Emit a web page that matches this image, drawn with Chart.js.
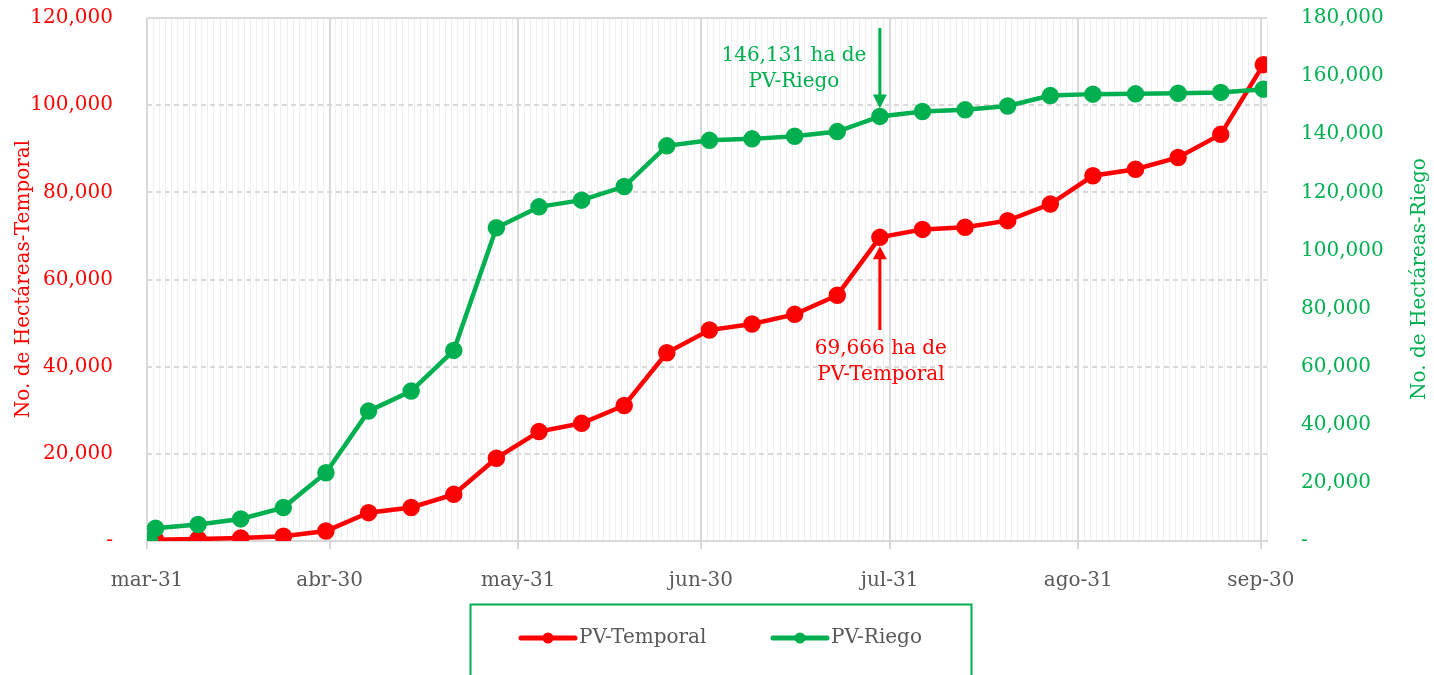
<!DOCTYPE html>
<html>
<head>
<meta charset="utf-8">
<script src="https://cdn.jsdelivr.net/npm/chart.js@4.4.0/dist/chart.umd.min.js"></script>
<style>
  html, body { margin: 0; padding: 0; background: #fff; }
  #wrap { width: 1434px; height: 675px; position: relative; }
</style>
</head>
<body>
<div id="wrap"><canvas id="chart"></canvas></div>
<script>
// dias contados desde el 31 de marzo
const dias = [0, 1, 8, 15, 22, 29, 36, 43, 50, 57, 64, 71, 78, 85, 92, 99, 106, 113, 120, 127, 134, 141, 148, 155, 162, 169, 176, 183];
const temporal = [0, 300, 450, 700, 1100, 2300, 6500, 7700, 10700, 19000, 25100, 27000, 31100, 43200, 48400, 49800, 52000, 56400, 69666, 71500, 72000, 73500, 77300, 83800, 85300, 88000, 93300, 109300];
const riego = [0, 4400, 5700, 7600, 11500, 23500, 44700, 51600, 65600, 107800, 115000, 117300, 122000, 136000, 137900, 138400, 139300, 140900, 146131, 147800, 148400, 149700, 153300, 153800, 153900, 154100, 154400, 155500];
const diasMes = [0, 30, 61, 91, 122, 153, 183];
const etiquetasMes = ["mar-31", "abr-30", "may-31", "jun-30", "jul-31", "ago-31", "sep-30"];

const ROJO = "#ff0000";
const VERDE = "#00b050";
const GRIS = "#595959";
const FUENTE = "DejaVu Serif";

const canvas = document.getElementById("chart");

function esMayor(v) {
  return diasMes.indexOf(Math.round(v + 0.4)) >= 0;
}
function formato(v) {
  return v === 0 ? "-" : v.toLocaleString("en-US");
}

// anotaciones, titulos de ejes y leyenda
const extras = {
  id: "extras",
  afterDraw(chart) {
    const ctx = chart.ctx;
    const area = chart.chartArea;
    const sx = chart.scales.x, sy = chart.scales.y, sy1 = chart.scales.y1;
    ctx.save();

    // borde superior
    ctx.strokeStyle = "#d9d9d9";
    ctx.lineWidth = 2;
    ctx.beginPath();
    ctx.moveTo(area.left, area.top);
    ctx.lineTo(area.right, area.top);
    ctx.stroke();

    // titulos de ejes
    ctx.font = "20px '" + FUENTE + "'";
    ctx.textAlign = "center";
    ctx.textBaseline = "middle";
    ctx.save();
    ctx.translate(24, 279);
    ctx.rotate(-Math.PI / 2);
    ctx.fillStyle = ROJO;
    ctx.fillText("No. de Hectáreas-Temporal", 0, 0);
    ctx.restore();
    ctx.save();
    ctx.translate(1420, 279);
    ctx.rotate(-Math.PI / 2);
    ctx.fillStyle = VERDE;
    ctx.fillText("No. de Hectáreas-Riego", 0, 0);
    ctx.restore();

    // flecha verde
    const xa = sx.getPixelForValue(120);
    const yv = sy1.getPixelForValue(146131);
    ctx.strokeStyle = VERDE;
    ctx.fillStyle = VERDE;
    ctx.lineWidth = 3;
    ctx.beginPath();
    ctx.moveTo(xa, 28);
    ctx.lineTo(xa, yv - 20);
    ctx.stroke();
    ctx.beginPath();
    ctx.moveTo(xa - 7, yv - 22);
    ctx.lineTo(xa + 7, yv - 22);
    ctx.lineTo(xa, yv - 8);
    ctx.closePath();
    ctx.fill();
    ctx.fillText("146,131 ha de", xa - 86, 56);
    ctx.fillText("PV-Riego", xa - 86, 82);

    // flecha roja
    const yr = sy.getPixelForValue(69666);
    ctx.strokeStyle = ROJO;
    ctx.fillStyle = ROJO;
    ctx.beginPath();
    ctx.moveTo(xa, 330);
    ctx.lineTo(xa, yr + 20);
    ctx.stroke();
    ctx.beginPath();
    ctx.moveTo(xa - 7, yr + 22);
    ctx.lineTo(xa + 7, yr + 22);
    ctx.lineTo(xa, yr + 9);
    ctx.closePath();
    ctx.fill();
    ctx.fillText("69,666 ha de", xa + 1, 349);
    ctx.fillText("PV-Temporal", xa + 1, 375);

    // leyenda
    ctx.strokeStyle = VERDE;
    ctx.lineWidth = 2;
    ctx.strokeRect(470.5, 604.5, 501, 100);
    const items = [[519, ROJO, "PV-Temporal"], [771, VERDE, "PV-Riego"]];
    items.forEach(([x0, color, txt]) => {
      ctx.strokeStyle = color;
      ctx.fillStyle = color;
      ctx.lineWidth = 5;
      ctx.lineCap = "round";
      ctx.beginPath();
      ctx.moveTo(x0 + 2, 638);
      ctx.lineTo(x0 + 56, 638);
      ctx.stroke();
      ctx.beginPath();
      ctx.arc(x0 + 29, 638, 5.5, 0, Math.PI * 2);
      ctx.fill();
      ctx.fillStyle = GRIS;
      ctx.textAlign = "left";
      ctx.fillText(txt, x0 + 60, 638);
    });
    ctx.restore();
  }
};

const data = {
  datasets: [
    {
      label: "PV-Temporal",
      data: dias.map((d, i) => ({ x: d, y: temporal[i] })),
      borderColor: ROJO,
      backgroundColor: ROJO,
      borderWidth: 4.5,
      pointRadius: 6.5,
      pointHoverRadius: 6.5,
      yAxisID: "y",
      order: 1,
    },
    {
      label: "PV-Riego",
      data: dias.map((d, i) => ({ x: d, y: riego[i] })),
      borderColor: VERDE,
      backgroundColor: VERDE,
      borderWidth: 4.5,
      pointRadius: 6.5,
      pointHoverRadius: 6.5,
      yAxisID: "y1",
      order: 0,
    },
  ],
};

const ajusteY = (ancho) => (s) => {
  s.width = ancho;
  s.paddingTop = 0;
  s.paddingBottom = 0;
};

const config = {
  type: "line",
  data: data,
  plugins: [extras],
  options: {
    responsive: true,
    maintainAspectRatio: false,
    animation: false,
    devicePixelRatio: 1,
    layout: { padding: { top: 18, left: 0, right: 0, bottom: 0 } },
    plugins: {
      legend: { display: false },
      tooltip: { enabled: false },
    },
    scales: {
      x: {
        type: "linear",
        min: -0.4,
        max: 183.6,
        afterBuildTicks: (s) => {
          s.ticks = Array.from({ length: 185 }, (_, k) => ({ value: k - 0.4 }));
        },
        afterFit: (s) => { s.height = 134; },
        ticks: {
          autoSkip: false,
          maxRotation: 0,
          minRotation: 0,
          color: GRIS,
          padding: 20,
          font: { family: FUENTE, size: 20 },
          callback: (v) => {
            const i = diasMes.indexOf(Math.round(v + 0.4));
            return i >= 0 ? etiquetasMes[i] : "";
          },
        },
        grid: {
          color: (c) => (c.tick && esMayor(c.tick.value) ? "#d9d9d9" : "#efefef"),
          lineWidth: (c) => (c.tick && esMayor(c.tick.value) ? 2 : 1),
          tickColor: (c) => (c.tick && esMayor(c.tick.value) ? "#d9d9d9" : "rgba(0,0,0,0)"),
          tickLength: 8,
        },
        border: { display: true, color: "#d9d9d9", width: 2 },
      },
      y: {
        position: "left",
        min: 0,
        max: 120000,
        afterFit: ajusteY(147),
        ticks: {
          stepSize: 20000,
          color: ROJO,
          padding: 34,
          font: { family: FUENTE, size: 20 },
          callback: formato,
        },
        grid: { color: "#d9d9d9", lineWidth: 2, drawTicks: false },
        border: { display: false, dash: [5, 4] },
      },
      y1: {
        position: "right",
        min: 0,
        max: 180000,
        afterFit: ajusteY(167),
        ticks: {
          stepSize: 20000,
          color: VERDE,
          padding: 34,
          font: { family: FUENTE, size: 20 },
          callback: formato,
        },
        grid: { drawOnChartArea: false, drawTicks: false },
        border: { display: false },
      },
    },
  },
};

const chart = new Chart(canvas, config);
</script>
</body>
</html>
